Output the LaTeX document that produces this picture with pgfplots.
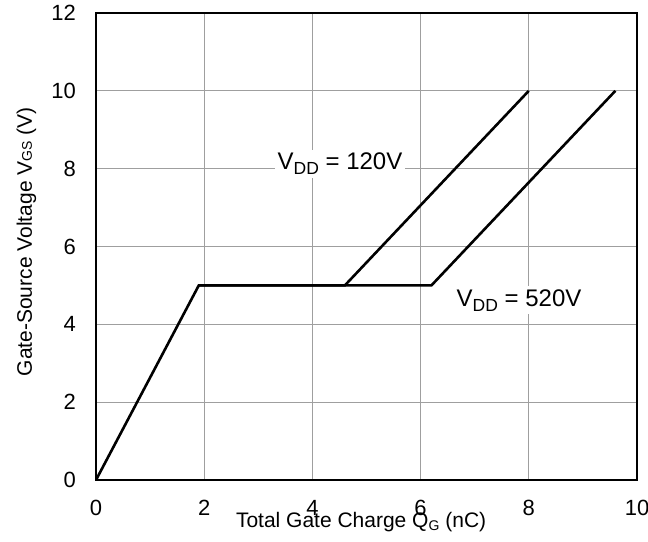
\documentclass[border=0pt]{standalone}
\usepackage{pgfplots}
\pgfplotsset{compat=1.18}
\usepackage{fontspec}
\setmainfont{Liberation Sans}
\begin{document}
\begin{tikzpicture}
\begin{axis}[
  scale only axis,
  width=541pt, height=467pt,
  xmin=0, xmax=10, ymin=0, ymax=12,
  xtick={0,2,...,10}, ytick={0,2,...,12},
  grid=major,
  grid style={gray!75, line width=1.3pt},
  axis line style={black, line width=2.6pt},
  tick style={draw=none},
  /pgf/number format/assume math mode=true,
  ticklabel style={font=\fontsize{22}{26}\selectfont, inner sep=0pt},
  xticklabel style={anchor=north, yshift=-20pt},
  yticklabel style={anchor=east, xshift=-20pt},
  xlabel={Total Gate Charge Q\raisebox{-3pt}{\fontsize{14}{16}\selectfont G} (nC)},
  xlabel style={at={([yshift=-47pt]axis description cs:0.49,0)}, anchor=base, inner sep=0pt, font=\fontsize{21}{24}\selectfont},
  ylabel={Gate-Source Voltage V\raisebox{0pt}{\fontsize{14}{16}\selectfont GS} (V)},
  ylabel style={at={([xshift=-64pt]axis description cs:0,0.51)}, anchor=base, inner sep=0pt, font=\fontsize{21}{24}\selectfont},
]
\addplot[black, line width=2.6pt, line join=miter] coordinates {(0,0) (1.9,5) (4.6,5) (8,10)};
\addplot[black, line width=2.6pt, line join=miter] coordinates {(1.9,5) (6.2,5) (9.6,10)};
\node[fill=white, inner sep=3pt, font=\fontsize{24}{28}\selectfont] at (axis cs:4.51,8.12) {V\raisebox{-5pt}{\fontsize{17.5}{20}\selectfont DD} = 120V};
\node[fill=white, inner sep=3pt, font=\fontsize{24}{28}\selectfont] at (axis cs:7.82,4.62) {V\raisebox{-5pt}{\fontsize{17.5}{20}\selectfont DD} = 520V};
\end{axis}
\pgfresetboundingbox
\path[use as bounding box] (current axis.south west) ++(-96pt,-61pt) rectangle ++(648pt,541pt);
\end{tikzpicture}
\end{document}
